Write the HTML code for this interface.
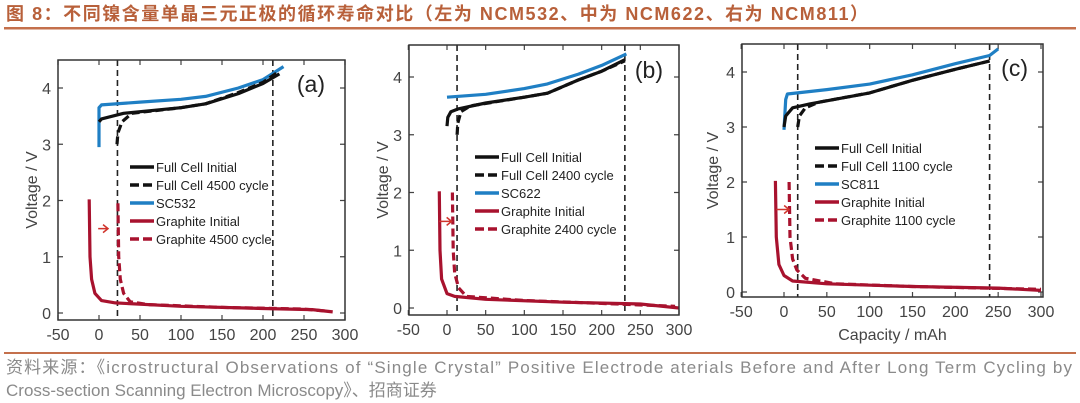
<!DOCTYPE html>
<html><head><meta charset="utf-8">
<style>
html,body{margin:0;padding:0;background:#fff;width:1080px;height:403px;overflow:hidden}
svg{display:block}
.title{font-family:"Liberation Sans","Noto Sans CJK SC",sans-serif}
.src{font-family:"Liberation Sans","Noto Sans CJK SC",sans-serif}
</style></head>
<body>
<svg id="chart" width="1080" height="403" viewBox="0 0 1080 403" xmlns="http://www.w3.org/2000/svg">
<text x="6" y="20" class="title" font-size="18" font-weight="bold" fill="#b8603a" textLength="862" lengthAdjust="spacing">图 8：不同镍含量单晶三元正极的循环寿命对比（左为 NCM532、中为 NCM622、右为 NCM811）</text>
<rect x="4" y="27" width="1072" height="2.5" fill="#c4704c"/>
<rect x="4" y="352" width="1072" height="2" fill="#c4704c"/>
<text x="6" y="373" class="src" font-size="17" fill="#8a8a8a" textLength="1066" lengthAdjust="spacing">资料来源：《icrostructural Observations of “Single Crystal” Positive Electrode aterials Before and After Long Term Cycling by</text>
<text x="6" y="396" class="src" font-size="17" fill="#8a8a8a">Cross-section Scanning Electron Microscopy》、招商证券</text>
<g id="panels"></g>
</svg>
<script>
// ---- data (capacity mAh, voltage V) ----
const xTicks = [-50,0,50,100,150,200,250,300];
const yTicks = [0,1,2,3,4];
const panelLabels = ["(a)","(b)","(c)"];
const cycleCounts = ["4500","2400","1100"];
const cathodeNames = ["SC532","SC622","SC811"];

const aCathodeX=[0,0,3,50,100,130,170,200,225], aCathodeY=[2.95,3.65,3.7,3.75,3.8,3.85,4.0,4.15,4.38];
const aFullInitX=[0,3,30,100,130,170,200,220], aFullInitY=[3.4,3.45,3.55,3.65,3.72,3.9,4.08,4.25];
const aFullCycX=[22,23,28,40,100,130,170,200,220], aFullCycY=[3.0,3.2,3.4,3.55,3.65,3.72,3.92,4.1,4.3];
const aGrInitX=[-12,-11,-9,-5,3,20,100,200,260,285], aGrInitY=[2.02,1.0,0.6,0.35,0.22,0.18,0.12,0.08,0.06,0.02];
const aGrCycX=[23,24,26,30,38,60,150,250,280], aGrCycY=[1.95,1.0,0.6,0.35,0.2,0.15,0.1,0.07,0.03];
const aVLines=[22.5,212];

const bCathodeX=[0,50,100,130,170,200,232], bCathodeY=[3.65,3.7,3.8,3.88,4.05,4.2,4.4];
const bFullInitX=[0,1,5,15,50,100,130,170,200,230], bFullInitY=[3.15,3.3,3.4,3.45,3.55,3.65,3.72,3.95,4.1,4.3];
const bFullCycX=[13,14,18,30,100,130,170,200,230], bFullCycY=[3.0,3.2,3.4,3.5,3.65,3.72,3.95,4.1,4.28];
const bGrInitX=[-10,-9,-7,0,10,50,150,250,300], bGrInitY=[2.02,1.0,0.5,0.25,0.2,0.15,0.1,0.07,0.0];
const bGrCycX=[7,8,10,15,25,100,200,295], bGrCycY=[2.0,1.0,0.6,0.35,0.2,0.13,0.08,0.03];
const bVLines=[13,230];

const cCathodeX=[0,2,4,50,100,150,200,240,250], cCathodeY=[2.95,3.5,3.6,3.68,3.78,3.95,4.15,4.3,4.42];
const cFullInitX=[0,2,10,30,100,150,200,240], cFullInitY=[3.0,3.2,3.35,3.42,3.62,3.85,4.05,4.2];
const cFullCycX=[16,18,25,40,100,150,200,240], cFullCycY=[3.0,3.2,3.35,3.45,3.62,3.85,4.05,4.2];
const cGrInitX=[-10,-9,-6,0,10,50,150,250,300], cGrInitY=[2.02,1.0,0.5,0.3,0.2,0.15,0.1,0.07,0.03];
const cGrCycX=[6,7,10,15,25,60,150,300], cGrCycY=[2.0,1.0,0.6,0.4,0.25,0.15,0.1,0.05];
const cVLines=[16,240];

const arrowsX=[[-1,11],[-10,6],[-9,6]];
const arrowY=1.5;

// ---- layout ----
const P=[
 {box:[58,60,345,320], x0:99,x300:345, y0:313,y4:88, leg:[130,167], lab:[325,92], yt:37,
  data:[aCathodeX,aCathodeY,aFullInitX,aFullInitY,aFullCycX,aFullCycY,aGrInitX,aGrInitY,aGrCycX,aGrCycY], vl:aVLines},
 {box:[409,45,679,315], x0:447,x300:679, y0:308,y4:77, leg:[475,157], lab:[663,78], yt:388,
  data:[bCathodeX,bCathodeY,bFullInitX,bFullInitY,bFullCycX,bFullCycY,bGrInitX,bGrInitY,bGrCycX,bGrCycY], vl:bVLines},
 {box:[742,44,1043,297], x0:784,x300:1041, y0:292,y4:72, leg:[815,148], lab:[1028,76], yt:718,
  data:[cCathodeX,cCathodeY,cFullInitX,cFullInitY,cFullCycX,cFullCycY,cGrInitX,cGrInitY,cGrCycX,cGrCycY], vl:cVLines}
];
const NS="http://www.w3.org/2000/svg";
const root=document.getElementById('panels');
function mk(tag,attrs,parent){const e=document.createElementNS(NS,tag);for(const k in attrs)e.setAttribute(k,attrs[k]);(parent||root).appendChild(e);return e;}
const BLUE="#1f7fc4", BLACK="#111", RED="#a8122e";
const FONT='"Liberation Sans", sans-serif';

P.forEach((p,i)=>{
  const g=mk('g',{});
  
  
  const sx=v=>p.x0+(p.x300-p.x0)*v/300;
  const sy=v=>p.y0+(p.y4-p.y0)*v/4;
  const [L,T,R,B]=p.box;
  const clipId='clip'+i;
  const cp=mk('clipPath',{id:clipId},g); mk('rect',{x:L,y:T,width:R-L,height:B-T},cp);
  xTicks.forEach(t=>{
    const x=sx(t);
    const tk=mk('path',{d:`M${x},${B}v-5M${x},${T}v5`,stroke:'#444','stroke-width':1.2},g);
    
    
    const tl=mk('text',{x:x,y:B+20,'text-anchor':'middle','font-size':16,'font-family':FONT,fill:'#444'},g);
    tl.textContent=t;
    
    
  });
  yTicks.forEach(t=>{
    const y=sy(t);
    const tk=mk('path',{d:`M${L},${y}h5M${R},${y}h-5`,stroke:'#444','stroke-width':1.2},g);
    
    
    const tl=mk('text',{x:L-7,y:y+6,'text-anchor':'end','font-size':16,'font-family':FONT,fill:'#444'},g);
    tl.textContent=t;
    
    
  });
  p.vl.forEach(v=>{
    const l=mk('line',{x1:sx(v),x2:sx(v),y1:T,y2:B,stroke:'#222','stroke-width':1.6,'stroke-dasharray':'6,4'},g);
    
    
  });
  const d=p.data;
  const series=[
    {x:d[6],y:d[7],c:RED,dash:null,n:'graphite-initial'},
    {x:d[8],y:d[9],c:RED,dash:'8,4',n:'graphite-cycled'},
    {x:d[0],y:d[1],c:BLUE,dash:null,n:'cathode-'+cathodeNames[i].toLowerCase()},
    {x:d[2],y:d[3],c:BLACK,dash:null,n:'full-cell-initial'},
    {x:d[4],y:d[5],c:BLACK,dash:'8,4',n:'full-cell-cycled'}
  ];
  series.forEach(s=>{
    const pts=s.x.map((xv,k)=>sx(xv).toFixed(1)+','+sy(s.y[k]).toFixed(1)).join(' ');
    const a={points:pts,fill:'none',stroke:s.c,'stroke-width':3.2,'stroke-linejoin':'round','clip-path':`url(#${clipId})`};
    if(s.dash)a['stroke-dasharray']=s.dash;
    const pl=mk('polyline',a,g);
    
    
  });
  const fr=mk('rect',{x:L,y:T,width:R-L,height:B-T,fill:'none',stroke:'#333','stroke-width':1.5},g);
  
  
  const ax1=sx(arrowsX[i][0]), ax2=sx(arrowsX[i][1]), ay=sy(arrowY);
  const ar=mk('path',{d:`M${ax1},${ay}H${ax2}M${ax2-5},${ay-4}L${ax2},${ay}L${ax2-5},${ay+4}`,stroke:'#d0342c','stroke-width':1.5,fill:'none'},g);
  
  
  const names=['Full Cell Initial','Full Cell '+cycleCounts[i]+' cycle',cathodeNames[i],'Graphite Initial','Graphite '+cycleCounts[i]+' cycle'];
  const cols=[BLACK,BLACK,BLUE,RED,RED];
  const dsh=[null,'9,4',null,null,'9,4'];
  names.forEach((nm,k)=>{
    const y=p.leg[1]+k*18;
    const la={x1:p.leg[0],x2:p.leg[0]+24,y1:y,y2:y,stroke:cols[k],'stroke-width':3.5};
    if(dsh[k])la['stroke-dasharray']=dsh[k];
    const ln=mk('line',la,g);
    
    
    const tx=mk('text',{x:p.leg[0]+26,y:y+5,'font-size':13,'font-family':FONT,fill:'#222'},g);
    tx.textContent=nm;
    
    
  });
  const pl=mk('text',{x:p.lab[0],y:p.lab[1],'text-anchor':'end','font-size':23,'font-family':FONT,fill:'#222'},g);
  pl.textContent=panelLabels[i];
  
  
  const cy=(T+B)/2;
  const yt=mk('text',{x:p.yt,y:cy,'text-anchor':'middle','font-size':16,'font-family':FONT,fill:'#444',transform:`rotate(-90 ${p.yt} ${cy})`},g);
  yt.textContent='Voltage / V';
  
  
  if(i===2){
    const xt=mk('text',{x:(L+R)/2,y:B+43,'text-anchor':'middle','font-size':16,'font-family':FONT,fill:'#444'},g);
    xt.textContent='Capacity / mAh';
    
    
  }
});
</script>
</body></html>
